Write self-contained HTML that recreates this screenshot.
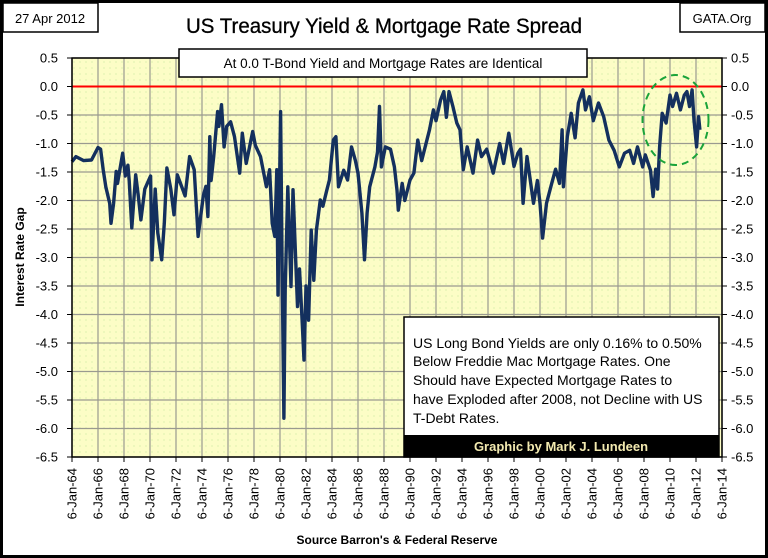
<!DOCTYPE html>
<html><head><meta charset="utf-8"><style>
html,body{margin:0;padding:0;background:#fff}
svg{display:block}
text{font-family:"Liberation Sans",sans-serif}
</style></head><body>
<svg id="c" width="768" height="558" viewBox="0 0 768 558" xmlns="http://www.w3.org/2000/svg">
<defs>
<pattern id="dots" width="6" height="6" patternUnits="userSpaceOnUse"><rect width="6" height="6" fill="#fcfdc6"/><circle cx="2" cy="2" r="0.6" fill="#c9eaa0"/></pattern>
</defs>
<rect x="1.5" y="1.5" width="765" height="555" fill="#fff" stroke="#000" stroke-width="3"/>
<rect x="72" y="58" width="650" height="399" fill="url(#dots)"/>
<g id="grid"></g>
<g id="ticks"></g>
<line x1="72" y1="86.5" x2="722" y2="86.5" stroke="#ff0000" stroke-width="2"/>
<path id="series" fill="none" stroke="#14305e" stroke-width="3.4" stroke-linejoin="round"/>
<ellipse cx="675.5" cy="120" rx="33" ry="45" fill="none" stroke="#1aa33a" stroke-width="2" stroke-dasharray="7,5"/>
<rect x="72" y="58" width="650" height="399" fill="none" stroke="#000" stroke-width="1.5"/>

<rect x="3" y="3" width="95" height="29" fill="#fff" stroke="#000" stroke-width="1.5"/>
<text x="50" y="23" font-size="13" text-anchor="middle">27 Apr 2012</text>
<rect x="680" y="3" width="85" height="29" fill="#fff" stroke="#000" stroke-width="1.5"/>
<text x="722" y="23" font-size="13" text-anchor="middle">GATA.Org</text>
<text x="384" y="33" font-size="21" text-anchor="middle" stroke="#000" stroke-width="0.3" font-family="Liberation Sans Narrow, Liberation Sans, sans-serif" textLength="396" lengthAdjust="spacingAndGlyphs">US Treasury Yield &amp; Mortgage Rate Spread</text>

<rect x="179" y="49" width="408" height="28" fill="#fff" stroke="#000" stroke-width="1.5"/>
<text x="383" y="68" font-size="13.5" text-anchor="middle">At 0.0 T-Bond Yield and Mortgage Rates are Identical</text>

<rect x="404" y="317" width="315" height="140" fill="#fff" stroke="#000" stroke-width="1.5"/>
<rect x="404" y="435" width="315" height="22" fill="#000"/>
<g font-size="14" font-family="Liberation Sans Narrow, Liberation Sans, sans-serif">
<text x="413" y="348">US Long Bond Yields are only 0.16% to  0.50%</text>
<text x="413" y="366">Below Freddie Mac Mortgage Rates.  One</text>
<text x="413" y="385">Should have  Expected Mortgage Rates to</text>
<text x="413" y="404">have Exploded after 2008, not Decline with US</text>
<text x="413" y="423">T-Debt Rates.</text>
</g>
<text x="561" y="451" font-size="13" font-weight="bold" fill="#f3eab0" text-anchor="middle" font-family="Liberation Serif, serif">Graphic by Mark J. Lundeen</text>

<text transform="translate(24,257) rotate(-90)" font-size="12" font-weight="bold" text-anchor="middle">Interest Rate Gap</text>
<text x="397" y="544" font-size="12" font-weight="bold" text-anchor="middle">Source Barron's &amp; Federal Reserve</text>
<g id="labels"></g>
</svg>
<script>
const yTicks=[0.5,0,-0.5,-1,-1.5,-2,-2.5,-3,-3.5,-4,-4.5,-5,-5.5,-6,-6.5];
const yTickLabels=["0.5","0.0","-0.5","-1.0","-1.5","-2.0","-2.5","-3.0","-3.5","-4.0","-4.5","-5.0","-5.5","-6.0","-6.5"];
const xTickYears=[1964,1966,1968,1970,1972,1974,1976,1978,1980,1982,1984,1986,1988,1990,1992,1994,1996,1998,2000,2002,2004,2006,2008,2010,2012,2014];
const xTickLabels=["6-Jan-64","6-Jan-66","6-Jan-68","6-Jan-70","6-Jan-72","6-Jan-74","6-Jan-76","6-Jan-78","6-Jan-80","6-Jan-82","6-Jan-84","6-Jan-86","6-Jan-88","6-Jan-90","6-Jan-92","6-Jan-94","6-Jan-96","6-Jan-98","6-Jan-00","6-Jan-02","6-Jan-04","6-Jan-06","6-Jan-08","6-Jan-10","6-Jan-12","6-Jan-14"];
const dates=[1964.0,1964.3,1964.9,1965.5,1966.0,1966.2,1966.4,1966.6,1966.9,1967.0,1967.2,1967.4,1967.5,1967.9,1968.1,1968.3,1968.4,1968.6,1968.9,1969.1,1969.3,1969.6,1970.05,1970.15,1970.4,1970.6,1970.9,1971.1,1971.3,1971.6,1971.85,1972.1,1972.7,1973.05,1973.4,1973.7,1974.1,1974.3,1974.45,1974.6,1974.7,1974.9,1975.2,1975.3,1975.5,1975.7,1975.9,1976.2,1976.5,1976.9,1977.1,1977.4,1977.9,1978.1,1978.5,1978.95,1979.2,1979.4,1979.6,1979.75,1979.85,1980.05,1980.15,1980.3,1980.4,1980.6,1980.85,1981.0,1981.2,1981.35,1981.5,1981.7,1981.85,1982.0,1982.2,1982.4,1982.6,1982.8,1983.1,1983.3,1983.6,1983.8,1984.1,1984.3,1984.5,1984.9,1985.2,1985.5,1985.8,1986.0,1986.3,1986.5,1986.7,1986.9,1987.3,1987.5,1987.65,1987.8,1988.1,1988.5,1988.8,1989.0,1989.1,1989.4,1989.6,1990.0,1990.3,1990.6,1990.9,1991.3,1991.5,1991.8,1992.0,1992.35,1992.6,1992.8,1993.0,1993.3,1993.6,1993.85,1994.1,1994.4,1994.85,1995.2,1995.5,1995.9,1996.4,1996.9,1997.2,1997.6,1998.0,1998.3,1998.5,1998.7,1999.0,1999.5,1999.8,2000.0,2000.2,2000.5,2000.9,2001.2,2001.5,2001.7,2001.8,2002.1,2002.4,2002.7,2002.95,2003.3,2003.5,2003.8,2004.1,2004.5,2004.9,2005.3,2005.7,2006.1,2006.5,2006.9,2007.2,2007.5,2007.9,2008.1,2008.5,2008.7,2008.9,2009.05,2009.2,2009.4,2009.7,2010.0,2010.2,2010.5,2010.8,2011.1,2011.3,2011.5,2011.7,2011.85,2012.05,2012.2,2012.3];
const spread=[-1.32,-1.23,-1.30,-1.29,-1.07,-1.10,-1.46,-1.76,-2.05,-2.40,-2.05,-1.49,-1.70,-1.17,-1.57,-1.38,-1.65,-2.48,-1.55,-1.92,-2.34,-1.80,-1.57,-3.04,-1.80,-2.57,-3.04,-2.40,-1.43,-1.80,-2.25,-1.55,-1.92,-1.23,-1.46,-2.63,-1.92,-1.75,-2.28,-0.88,-1.65,-1.23,-0.44,-0.70,-0.32,-1.06,-0.70,-0.62,-0.88,-1.52,-0.82,-1.35,-0.79,-1.03,-1.23,-1.76,-1.46,-2.40,-2.63,-1.46,-3.66,-0.44,-2.98,-5.82,-3.57,-1.76,-3.51,-1.81,-3.00,-3.86,-3.20,-4.10,-4.80,-3.50,-4.10,-2.52,-3.40,-2.52,-1.99,-2.10,-1.82,-1.64,-0.94,-0.88,-1.76,-1.47,-1.64,-1.06,-1.30,-1.52,-2.22,-3.04,-2.22,-1.76,-1.41,-1.15,-0.35,-1.41,-1.06,-1.10,-1.41,-1.82,-2.17,-1.70,-2.00,-1.64,-1.52,-0.94,-1.30,-0.94,-0.76,-0.41,-0.60,-0.24,-0.09,-0.54,-0.09,-0.35,-0.64,-0.76,-1.46,-1.06,-1.52,-0.94,-1.23,-1.10,-1.52,-1.00,-1.35,-0.82,-1.40,-1.17,-1.10,-2.05,-1.23,-2.05,-1.65,-2.05,-2.66,-2.05,-1.70,-1.45,-1.70,-0.76,-1.76,-0.88,-0.47,-0.90,-0.29,-0.06,-0.41,-0.18,-0.60,-0.29,-0.53,-0.94,-1.12,-1.41,-1.17,-1.12,-1.35,-1.06,-1.41,-1.20,-1.47,-1.93,-1.45,-1.80,-1.06,-0.47,-0.64,-0.15,-0.35,-0.12,-0.41,-0.15,-0.09,-0.35,-0.06,-0.59,-1.06,-0.53,-0.76];

const X0=72,X1=722,Y0=58,Y1=457;
function xs(yr){return X0+(yr-1964)/(2014-1964)*(X1-X0);}
function ys(v){return Y0+(0.5-v)/7*(Y1-Y0);}
const NS="http://www.w3.org/2000/svg";
const grid=document.getElementById('grid'),ticks=document.getElementById('ticks'),labels=document.getElementById('labels');
function mk(tag,attrs,parent){const e=document.createElementNS(NS,tag);for(const k in attrs)e.setAttribute(k,attrs[k]);parent.appendChild(e);return e;}
yTicks.forEach((v,i)=>{
  const y=ys(v);
  const g=mk('line',{x1:X0,x2:X1,y1:y,y2:y,stroke:'#9a9a90','stroke-width':1.2},grid);
  
  
  mk('line',{x1:X0-5,x2:X0,y1:y,y2:y,stroke:'#000'},ticks);
  mk('line',{x1:X1,x2:X1+5,y1:y,y2:y,stroke:'#000'},ticks);
  const l=mk('text',{x:58,y:y+4.5,'font-size':13,'text-anchor':'end'},labels);
  l.textContent=yTickLabels[i];
  
  
  const r=mk('text',{x:731,y:y+4.5,'font-size':13},labels);
  r.textContent=yTickLabels[i];
  
  
});
xTickYears.forEach((yr,i)=>{
  const x=xs(yr);
  const g=mk('line',{x1:x,x2:x,y1:Y0,y2:Y1,stroke:'#9a9a90','stroke-width':1.2},grid);
  
  
  mk('line',{x1:x,x2:x,y1:Y1,y2:Y1+5,stroke:'#000'},ticks);
  const t=mk('text',{transform:`translate(${x+4.5},468) rotate(-90)`,'font-size':13,'text-anchor':'end','font-family':'Liberation Sans Narrow, Liberation Sans, sans-serif'},labels);
  t.textContent=xTickLabels[i];
  
  
});
document.getElementById('series').setAttribute('d',dates.map((d,i)=>(i?'L':'M')+xs(d).toFixed(1)+' '+ys(spread[i]).toFixed(1)).join(' '));
</script>
</body></html>
